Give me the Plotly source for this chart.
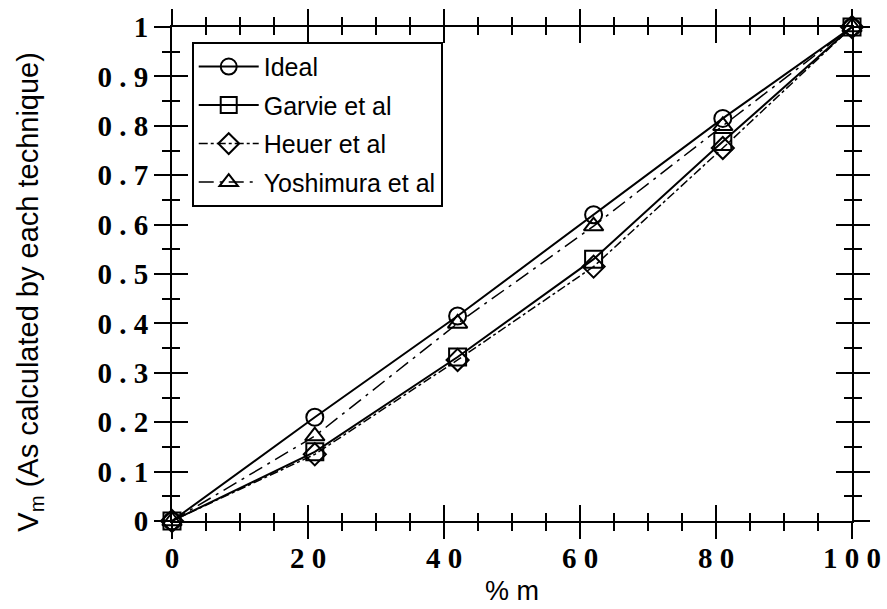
import plotly.graph_objects as go

# Volume fraction of monoclinic phase: nominal % m versus the value each technique yields
pct_m = [0, 21, 42, 62, 81, 100]
ideal = [0, 0.21, 0.415, 0.62, 0.815, 1.0]
garvie = [0, 0.14, 0.332, 0.53, 0.768, 1.0]
heuer = [0, 0.135, 0.326, 0.515, 0.755, 1.0]
yoshimura = [0, 0.172, 0.40, 0.597, 0.80, 1.0]

series_names = ["Ideal", "Garvie et al", "Heuer et al", "Yoshimura et al"]

x_ticks = [0, 20, 40, 60, 80, 100]
x_ticktext = ["0", "2 0", "4 0", "6 0", "8 0", "1 0 0"]
x_minor = [5, 10, 15, 25, 30, 35, 45, 50, 55, 65, 70, 75, 85, 90, 95]
y_ticks = [0, 0.1, 0.2, 0.3, 0.4, 0.5, 0.6, 0.7, 0.8, 0.9, 1.0]
y_ticktext = ["0", "0 . 1", "0 . 2", "0 . 3", "0 . 4", "0 . 5",
              "0 . 6", "0 . 7", "0 . 8", "0 . 9", "1"]
y_minor = [0.05, 0.15, 0.25, 0.35, 0.45, 0.55, 0.65, 0.75, 0.85, 0.95]

styles = [
    dict(symbol="circle-open", dash="solid", width=2),
    dict(symbol="square-open", dash="solid", width=2),
    dict(symbol="diamond-open", dash="dashdot", width=1.5),
    dict(symbol="triangle-up-open", dash="longdashdot", width=1.5),
]

fig = go.Figure()
for name, vals, st in zip(series_names, [ideal, garvie, heuer, yoshimura], styles):
    fig.add_trace(go.Scatter(
        x=pct_m, y=vals, name=name, mode="lines+markers",
        line=dict(color="black", width=st["width"], dash=st["dash"]),
        marker=dict(symbol=st["symbol"], size=17, color="black",
                    line=dict(color="black", width=2)),
        cliponaxis=False, legendgroup=name,
    ))

# second, empty layer of axes carrying the inward half of every tick
fig.add_trace(go.Scatter(x=[], y=[], xaxis="x2", yaxis="y2",
                         showlegend=False, hoverinfo="skip"))

tick_font = dict(family="Liberation Serif", size=29, color="black", weight="bold")
title_font = dict(family="Liberation Sans", size=27, color="black")
ytitle_font = dict(family="Liberation Sans", size=29, color="black")


def axis(vals, minor_vals, rng, side, **extra):
    return dict(
        range=rng, showline=True, linecolor="black", linewidth=2,
        showgrid=False, zeroline=False, mirror="allticks", automargin=False,
        ticks=side, tickvals=vals, ticklen=16, tickwidth=2, tickcolor="black",
        minor=dict(tickvals=minor_vals, ticks=side, ticklen=8,
                   tickwidth=2, tickcolor="black", showgrid=False),
        **extra,
    )


fig.update_layout(
    width=887, height=609,
    margin=dict(l=172, r=35, t=27, b=88),
    paper_bgcolor="white", plot_bgcolor="white",
    showlegend=True,
    legend=dict(x=0.029, y=0.97, xanchor="left", yanchor="top",
                bgcolor="white", bordercolor="black", borderwidth=2,
                font=dict(family="Liberation Sans", size=25, color="black"),
                tracegroupgap=3, itemwidth=60),
    xaxis=axis(x_ticks, x_minor, [0, 100], "outside",
               ticktext=x_ticktext, tickfont=tick_font, ticklabelstandoff=-6,
               title=dict(text="% m", font=title_font, standoff=8)),
    yaxis=axis(y_ticks, y_minor, [0, 1], "outside",
               ticktext=y_ticktext, tickfont=tick_font),
    xaxis2=axis(x_ticks, x_minor, [0, 100], "inside",
                overlaying="x", anchor="y2", showticklabels=False),
    yaxis2=axis(y_ticks, y_minor, [0, 1], "inside",
                overlaying="y", anchor="x2", showticklabels=False),
    annotations=[dict(
        text="V<sub>m</sub> (As calculated by each technique)",
        xref="paper", yref="paper", x=-0.209, y=0.464,
        xanchor="center", yanchor="middle", textangle=-90,
        showarrow=False, font=ytitle_font,
    )],
)

fig.write_html("out.html")
